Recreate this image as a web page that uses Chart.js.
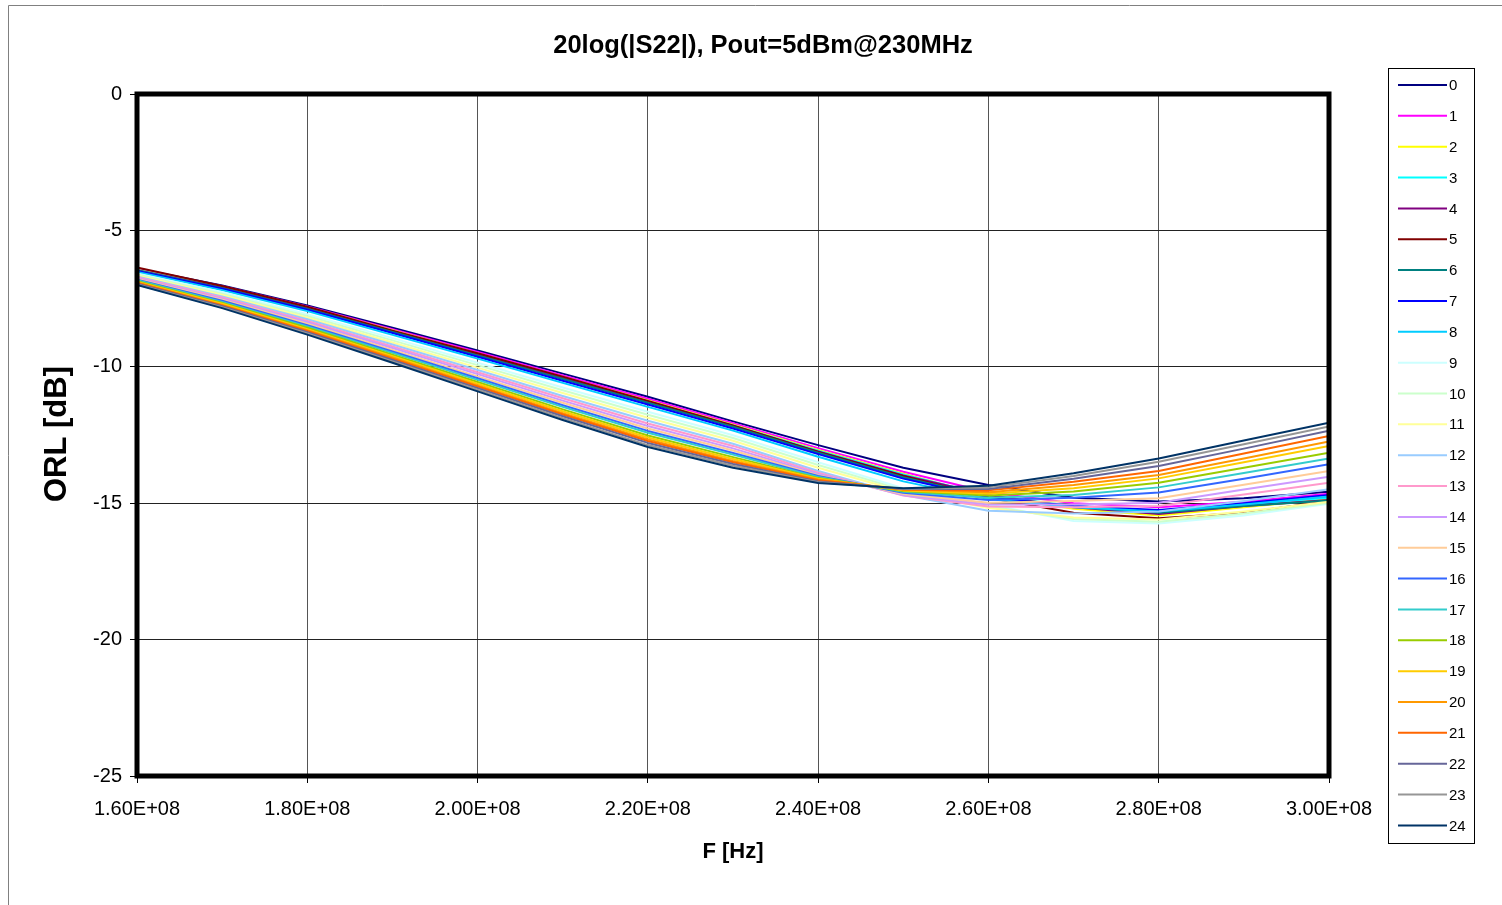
<!DOCTYPE html>
<html><head><meta charset="utf-8">
<script src="https://cdn.jsdelivr.net/npm/chart.js@4.4.1/dist/chart.umd.min.js"></script>
<style>html,body{margin:0;padding:0;background:#fff;overflow:hidden}canvas{display:block}</style>
</head><body>
<canvas id="c" width="1502" height="905"></canvas>
<script>
const chartTitle = "20log(|S22|), Pout=5dBm@230MHz";
const xTitle = "F [Hz]";
const yTitle = "ORL [dB]";
const freqs = [160e6,170e6,180e6,190e6,200e6,210e6,220e6,230e6,240e6,250e6,260e6,270e6,280e6,290e6,300e6];
const xTickValues = [160e6,180e6,200e6,220e6,240e6,260e6,280e6,300e6];
const xTickLabels = ["1.60E+08","1.80E+08","2.00E+08","2.20E+08","2.40E+08","2.60E+08","2.80E+08","3.00E+08"];
const yTickValues = [0,-5,-10,-15,-20,-25];
const seriesNames = ["0","1","2","3","4","5","6","7","8","9","10","11","12","13","14","15","16","17","18","19","20","21","22","23","24"];
const s0 = [-6.40,-7.02,-7.75,-8.57,-9.40,-10.25,-11.10,-12.00,-12.87,-13.70,-14.33,-14.80,-14.94,-14.82,-14.58];
const s1 = [-6.42,-7.05,-7.79,-8.62,-9.46,-10.32,-11.17,-12.07,-12.98,-13.85,-14.60,-15.00,-15.15,-14.95,-14.65];
const s2 = [-6.44,-7.08,-7.82,-8.66,-9.51,-10.37,-11.23,-12.12,-13.05,-13.92,-14.75,-15.20,-15.45,-15.15,-14.85];
const s3 = [-6.45,-7.09,-7.85,-8.69,-9.54,-10.40,-11.27,-12.15,-13.08,-13.95,-14.72,-15.10,-15.30,-15.05,-14.80];
const s4 = [-6.46,-7.10,-7.86,-8.70,-9.55,-10.42,-11.28,-12.17,-13.10,-13.98,-14.70,-15.15,-15.40,-15.10,-14.88];
const s5 = [-6.36,-7.04,-7.80,-8.68,-9.50,-10.36,-11.25,-12.15,-13.12,-14.00,-14.80,-15.35,-15.55,-15.35,-14.92];
const s6 = [-6.47,-7.12,-7.88,-8.72,-9.58,-10.45,-11.32,-12.20,-13.15,-14.05,-14.78,-15.12,-15.35,-15.10,-14.90];
const s7 = [-6.49,-7.14,-7.91,-8.76,-9.63,-10.51,-11.38,-12.26,-13.20,-14.10,-14.80,-15.10,-15.25,-15.00,-14.70];
const s8 = [-6.52,-7.19,-7.96,-8.83,-9.70,-10.59,-11.47,-12.34,-13.30,-14.20,-14.85,-15.15,-15.30,-15.05,-14.75];
const s9 = [-6.58,-7.27,-8.07,-8.95,-9.85,-10.76,-11.65,-12.51,-13.50,-14.45,-15.05,-15.65,-15.74,-15.45,-15.02];
const s10 = [-6.62,-7.32,-8.14,-9.03,-9.94,-10.86,-11.76,-12.61,-13.60,-14.52,-15.12,-15.58,-15.68,-15.38,-14.98];
const s11 = [-6.65,-7.37,-8.20,-9.11,-10.03,-10.96,-11.87,-12.71,-13.70,-14.58,-15.18,-15.52,-15.60,-15.30,-14.95];
const s12 = [-6.69,-7.42,-8.26,-9.18,-10.12,-11.07,-11.98,-12.82,-13.82,-14.70,-15.28,-15.38,-15.30,-14.92,-14.49];
const s13 = [-6.72,-7.46,-8.32,-9.25,-10.20,-11.15,-12.08,-12.90,-13.88,-14.72,-15.12,-15.15,-15.10,-14.68,-14.25];
const s14 = [-6.75,-7.50,-8.37,-9.31,-10.27,-11.24,-12.17,-12.99,-13.93,-14.70,-15.05,-15.05,-14.98,-14.50,-14.03];
const s15 = [-6.78,-7.54,-8.42,-9.38,-10.35,-11.32,-12.26,-13.07,-13.97,-14.66,-14.98,-14.92,-14.82,-14.32,-13.82];
const s16 = [-6.81,-7.58,-8.48,-9.44,-10.42,-11.41,-12.35,-13.16,-14.00,-14.62,-14.88,-14.80,-14.61,-14.10,-13.57];
const s17 = [-6.83,-7.62,-8.52,-9.49,-10.48,-11.47,-12.42,-13.22,-14.04,-14.58,-14.80,-14.70,-14.42,-13.89,-13.36];
const s18 = [-6.86,-7.66,-8.57,-9.56,-10.56,-11.56,-12.52,-13.31,-14.08,-14.55,-14.72,-14.57,-14.25,-13.70,-13.15];
const s19 = [-6.89,-7.69,-8.62,-9.61,-10.62,-11.63,-12.59,-13.38,-14.10,-14.53,-14.65,-14.45,-14.09,-13.50,-12.90];
const s20 = [-6.91,-7.73,-8.66,-9.66,-10.68,-11.70,-12.66,-13.45,-14.13,-14.50,-14.60,-14.33,-13.97,-13.36,-12.74];
const s21 = [-6.93,-7.75,-8.69,-9.70,-10.72,-11.75,-12.72,-13.50,-14.16,-14.50,-14.53,-14.21,-13.82,-13.18,-12.54];
const s22 = [-6.95,-7.78,-8.73,-9.75,-10.78,-11.81,-12.79,-13.56,-14.20,-14.48,-14.48,-14.10,-13.64,-13.00,-12.34];
const s23 = [-6.98,-7.82,-8.78,-9.80,-10.84,-11.88,-12.87,-13.63,-14.23,-14.47,-14.42,-14.00,-13.48,-12.84,-12.19];
const s24 = [-7.00,-7.85,-8.82,-9.85,-10.90,-11.95,-12.94,-13.70,-14.26,-14.45,-14.36,-13.90,-13.36,-12.70,-12.05];
const seriesValues = [s0,s1,s2,s3,s4,s5,s6,s7,s8,s9,s10,s11,s12,s13,s14,s15,s16,s17,s18,s19,s20,s21,s22,s23,s24];
const seriesColors = ["#000080","#FF00FF","#FFFF00","#00FFFF","#800080","#800000","#008080","#0000FF","#00CCFF","#CCFFFF","#CCFFCC","#FFFF99","#99CCFF","#FF99CC","#CC99FF","#FFCC99","#3366FF","#33CCCC","#99CC00","#FFCC00","#FF9900","#FF6600","#666699","#969696","#003366"];

const FONT = "'Liberation Sans', Arial, sans-serif";

const datasets = seriesValues.map((vals, i) => ({
  label: seriesNames[i],
  data: vals.map((v, j) => ({x: freqs[j], y: v})),
  borderColor: seriesColors[i],
  backgroundColor: seriesColors[i],
  borderWidth: 2,
  pointRadius: 0,
  tension: 0,
  fill: false,
  order: seriesValues.length - i
}));

const decor = {
  id: 'decor',
  afterDraw(chart) {
    const ctx = chart.ctx;
    const a = chart.chartArea;
    ctx.save();
    // outer border
    ctx.strokeStyle = '#808080';
    ctx.lineWidth = 1;
    ctx.beginPath();
    ctx.moveTo(8.5, 910); ctx.lineTo(8.5, 5.5); ctx.lineTo(1510, 5.5);
    ctx.stroke();
    // plot frame
    ctx.strokeStyle = '#000';
    ctx.lineWidth = 5;
    ctx.strokeRect(a.left, a.top, a.right - a.left, a.bottom - a.top);
    // title
    ctx.fillStyle = '#000';
    ctx.textAlign = 'center';
    ctx.textBaseline = 'middle';
    ctx.font = "bold 25.5px " + FONT;
    ctx.fillText(chartTitle, 763, 46);
    // x title
    ctx.font = "bold 22px " + FONT;
    ctx.fillText(xTitle, (a.left + a.right) / 2, 852);
    // y title
    ctx.save();
    ctx.translate(57, 434);
    ctx.rotate(-Math.PI / 2);
    ctx.font = "bold 31px " + FONT;
    ctx.fillText(yTitle, 0, 0);
    ctx.restore();
    // legend
    ctx.strokeStyle = '#000';
    ctx.lineWidth = 1;
    ctx.strokeRect(1388.5, 68.5, 86, 775);
    ctx.textAlign = 'left';
    ctx.font = "15px 'Liberation Sans Narrow', " + FONT;
    chart.data.datasets.forEach((ds, i) => {
      const y = 85 + i * 30.85;
      ctx.strokeStyle = ds.borderColor;
      ctx.lineWidth = 2;
      ctx.beginPath();
      ctx.moveTo(1398, y); ctx.lineTo(1447, y);
      ctx.stroke();
      ctx.fillStyle = '#000';
      ctx.fillText(ds.label, 1449, y + 1);
    });
    ctx.restore();
  }
};

new Chart(document.getElementById('c'), {
  type: 'scatter',
  data: { datasets },
  options: {
    responsive: false,
    animation: false,
    devicePixelRatio: 1,
    showLine: true,
    layout: { padding: { left: 0, top: 94, right: 173, bottom: 0 } },
    plugins: { legend: { display: false }, title: { display: false }, tooltip: { enabled: false } },
    elements: { line: { borderJoinStyle: 'round' } },
    scales: {
      x: {
        type: 'linear', min: 160e6, max: 300e6,
        afterBuildTicks(scale) { scale.ticks = xTickValues.map(v => ({ value: v })); },
        afterFit(scale) { scale.height = 129; },
        border: { display: false },
        grid: { color: '#555', lineWidth: 1, drawTicks: true, tickLength: 7, tickColor: '#000' },
        ticks: {
          autoSkip: false, maxRotation: 0, padding: 14, color: '#000',
          font: { family: FONT, size: 20 },
          callback(v, i) { return xTickLabels[i]; }
        }
      },
      y: {
        type: 'linear', min: -25, max: 0,
        afterBuildTicks(scale) { scale.ticks = yTickValues.map(v => ({ value: v })); },
        afterFit(scale) { scale.width = 137; },
        border: { display: false },
        grid: { color: '#222', lineWidth: 1, drawTicks: true, tickLength: 7, tickColor: '#000' },
        ticks: {
          autoSkip: false, padding: 8, color: '#000',
          font: { family: FONT, size: 20 },
          callback(v) { return String(v); }
        }
      }
    }
  },
  plugins: [decor]
});
</script>
</body></html>
